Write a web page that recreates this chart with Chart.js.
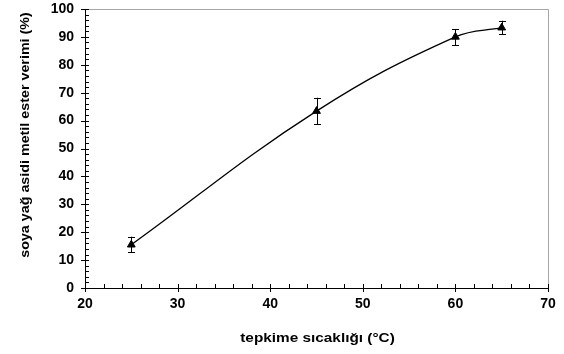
<!DOCTYPE html>
<html>
<head>
<meta charset="utf-8">
<script src="https://cdn.jsdelivr.net/npm/chart.js@4/dist/chart.umd.min.js"></script>
<style>
  html, body { margin: 0; padding: 0; background: #fff; }
  #wrap { width: 564px; height: 354px; }
</style>
</head>
<body>
<div id="wrap"><canvas id="chart" width="564" height="354"></canvas></div>
<script>
const temps = [25, 45, 60, 65];
const yields = [15.5, 63.4, 90, 93.3];
const errLow = [12.8, 58.7, 87.1, 90.9];
const errHigh = [18.4, 68.2, 92.8, 95.8];
const xTitle = "tepkime sıcaklığı (°C)";
const yTitle = "soya yağ asidi metil ester verimi (%)";

const FONT = "'Liberation Sans', Arial, sans-serif";

// ticks, frame, error bars and axis titles drawn with the chart's own scales
const extras = {
  id: "extras",
  beforeDatasetsDraw(chart) {
    const { ctx, scales: { x, y } } = chart;
    ctx.save();
    ctx.strokeStyle = "#000";
    ctx.lineWidth = 1;
    temps.forEach((t, i) => {
      const px = Math.round(x.getPixelForValue(t)) + 0.5;
      const top = y.getPixelForValue(errHigh[i]);
      const bot = y.getPixelForValue(errLow[i]);
      ctx.beginPath();
      ctx.moveTo(px, top);
      ctx.lineTo(px, bot);
      ctx.moveTo(px - 3.5, Math.round(top) + 0.5);
      ctx.lineTo(px + 3.5, Math.round(top) + 0.5);
      ctx.moveTo(px - 3.5, Math.round(bot) + 0.5);
      ctx.lineTo(px + 3.5, Math.round(bot) + 0.5);
      ctx.stroke();
    });
    ctx.restore();
  },
  afterDraw(chart) {
    const { ctx, chartArea: a, scales: { x, y } } = chart;
    ctx.save();
    // grey frame on top and right
    ctx.strokeStyle = "#a6a6a6";
    ctx.lineWidth = 1;
    ctx.beginPath();
    ctx.moveTo(a.left, Math.round(a.top) + 0.5);
    ctx.lineTo(Math.round(a.right) + 0.5, Math.round(a.top) + 0.5);
    ctx.lineTo(Math.round(a.right) + 0.5, a.bottom);
    ctx.stroke();

    ctx.strokeStyle = "#000";
    ctx.beginPath();
    // y ticks
    for (let v = 0; v <= 100; v += 2) {
      const py = Math.round(y.getPixelForValue(v)) + 0.5;
      const major = v % 10 === 0;
      ctx.moveTo(a.left - (major ? 4 : 0), py);
      ctx.lineTo(a.left + 4, py);
    }
    // x ticks
    for (let v = 20; v <= 70; v += 2) {
      const px = Math.round(x.getPixelForValue(v)) + 0.5;
      const major = v % 10 === 0;
      ctx.moveTo(px, a.bottom + (major ? 4 : 0));
      ctx.lineTo(px, a.bottom - 4);
    }
    ctx.stroke();

    // axis titles (the original text is slightly stretched sideways)
    ctx.fillStyle = "#000";
    ctx.font = "bold 13px " + FONT;
    ctx.textAlign = "center";
    ctx.textBaseline = "alphabetic";
    ctx.save();
    ctx.translate((a.left + a.right) / 2 + 1, 342);
    ctx.scale(1.18, 1);
    ctx.fillText(xTitle, 0, 0);
    ctx.restore();
    ctx.translate(29, 135);
    ctx.rotate(-Math.PI / 2);
    ctx.scale(1.1, 1);
    ctx.fillText(yTitle, 0, 0);
    ctx.restore();
  }
};

new Chart(document.getElementById("chart"), {
  type: "line",
  data: {
    datasets: [{
      data: temps.map((t, i) => ({ x: t, y: yields[i] })),
      borderColor: "#000",
      borderWidth: 1.3,
      backgroundColor: "#000",
      pointStyle: "triangle",
      pointRadius: 4.5,
      pointBorderWidth: 1,
      tension: 0.4,
      fill: false
    }]
  },
  plugins: [extras],
  options: {
    responsive: false,
    animation: false,
    layout: { padding: { left: 0, right: 16, top: 9, bottom: 0 } },
    plugins: { legend: { display: false }, tooltip: { enabled: false } },
    scales: {
      x: {
        type: "linear",
        min: 20,
        max: 70,
        afterFit: (scale) => {
          scale.height = 66;
          scale.paddingTop = 0;
          scale.paddingBottom = 0;
        },
        grid: { display: false, drawTicks: false },
        border: { display: true, color: "#000", width: 1 },
        ticks: {
          stepSize: 10,
          padding: 8,
          color: "#000",
          font: { family: FONT, size: 14, weight: "bold" },
          maxRotation: 0
        }
      },
      y: {
        min: 0,
        max: 100,
        afterFit: (scale) => {
          scale.width = 85;
          scale.paddingTop = 0;
          scale.paddingBottom = 0;
        },
        grid: { display: false, drawTicks: false },
        border: { display: true, color: "#000", width: 1 },
        ticks: {
          stepSize: 10,
          padding: 11,
          color: "#000",
          font: { family: FONT, size: 14, weight: "bold" }
        }
      }
    }
  }
});
</script>
</body>
</html>
